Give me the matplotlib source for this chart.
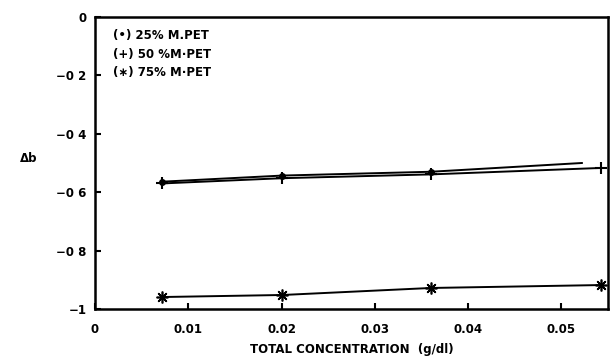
import matplotlib
matplotlib.use("Agg")
import matplotlib.pyplot as plt

# concentrations (g/dl)
conc = [0.0072, 0.0201, 0.0360, 0.0542]

# delta b for each blend
db_25 = [-0.564, -0.543, -0.530, -0.500]
x_25 = [0.0072, 0.0201, 0.0360, 0.0522]
db_50 = [-0.570, -0.552, -0.539, -0.517]
db_75 = [-0.959, -0.952, -0.928, -0.918]

xticks = [0, 0.01, 0.02, 0.03, 0.04, 0.05]
xtick_labels = ["0", "0.01", "0.02", "0.03", "0.04", "0.05"]
yticks = [0, -0.2, -0.4, -0.6, -0.8, -1]
ytick_labels = ["0", "\u22120 2", "\u22120 4", "\u22120 6", "\u22120 8", "\u22121"]
legend_lines = ["(\u2022) 25% M.PET", "(+) 50 %M\u00b7PET", "(\u2217) 75% M\u00b7PET"]

plt.rcParams['font.family'] = ['DejaVu Sans']
plt.rcParams['font.weight'] = 'bold'

fig = plt.figure(figsize=(6.12, 3.6), dpi=100)
ax = fig.add_axes([95/612, 1 - 309/360, (608-95)/612, (309-17)/360])

ax.plot(x_25, db_25, color='black', lw=1.4, marker='o', ms=4, markevery=[0, 1, 2])
ax.plot(conc, db_50, color='black', lw=1.4, marker='+', ms=9, mew=1.5)
ax.plot(conc, db_75, color='black', lw=1.4, marker=(8, 2, 0), ms=8.5, mew=1.2)

ax.set_xlim(0.0003, 0.055)
ax.set_ylim(-1, 0)
ax.set_xticks(xticks)
ax.set_xticklabels(xtick_labels, fontsize=8.5, fontweight='bold')
ax.set_yticks(yticks)
ax.set_yticklabels(ytick_labels, fontsize=8.5, fontweight='bold')
ax.tick_params(direction='in', length=4, width=1.5, pad=6)
ax.tick_params(axis='x', pad=10)
for s in ax.spines.values():
    s.set_linewidth(1.8)

ax.set_xlabel("TOTAL CONCENTRATION  (g/dl)", fontsize=8.5, fontweight='bold', labelpad=5)
fig.text(20/612, 1 - 158/360, "\u0394b", fontsize=8.5, fontweight='bold', ha='left', va='center')

for i, t in enumerate(legend_lines):
    ax.text(0.035, 0.935 - i*0.063, t, transform=ax.transAxes, fontsize=8.5,
            fontweight='bold', va='center', ha='left')

fig.savefig("out.png", dpi=100)
